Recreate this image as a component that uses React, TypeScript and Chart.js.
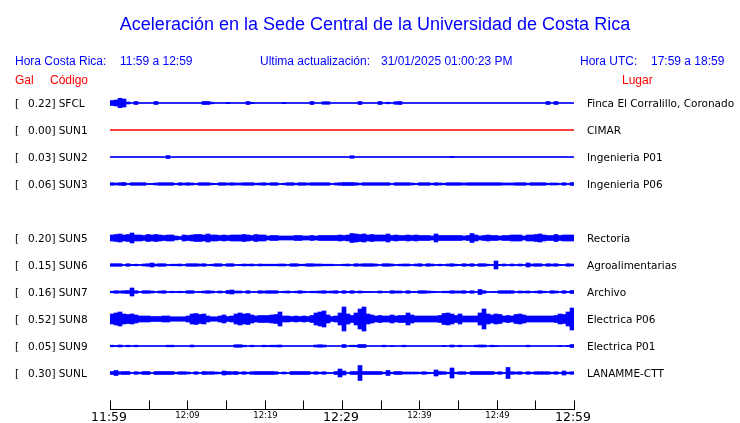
import { useEffect, useRef } from 'react';
import { Chart, registerables } from 'chart.js';

Chart.register(...registerables);

// ---------------- data ----------------
const TITLE = 'Aceleración en la Sede Central de la Universidad de Costa Rica';
const localTimeLabel = 'Hora Costa Rica:';
const localTimeRange = '11:59 a 12:59';
const updateLabel = 'Ultima actualización:';
const updateValue = '31/01/2025 01:00:23 PM';
const utcLabel = 'Hora UTC:';
const utcRange = '17:59 a 18:59';
const colGal = 'Gal';
const colCode = 'Código';
const colPlace = 'Lugar';

const WINDOW_MINUTES = 60;
const ROW_GAL = 1.16; // vertical spacing between traces, in Gal
const AMP_UNIT_GAL = 0.043; // envelope values below are in units of this many Gal

const stationCodes = ['SFCL', 'SUN1', 'SUN2', 'SUN3', 'SUN5', 'SUN6', 'SUN7', 'SUN8', 'SUN9', 'SUNL'];
const stationPeaks = ['0.22', '0.00', '0.03', '0.06', '0.20', '0.15', '0.16', '0.52', '0.05', '0.30'];
const stationPlaces = [
  'Finca El Corralillo, Coronado',
  'CIMAR',
  'Ingenieria P01',
  'Ingenieria P06',
  'Rectoria',
  'Agroalimentarias',
  'Archivo',
  'Electrica P06',
  'Electrica P01',
  'LANAMME-CTT',
];
// slot 4 (SUN4) is empty in the display
const stationSlots = [0, 1, 2, 3, 5, 6, 7, 8, 9, 10];
const stationColors = ['#0000ff', '#ff0000', '#0000ff', '#0000ff', '#0000ff', '#0000ff', '#0000ff', '#0000ff', '#0000ff', '#0000ff'];

const timeTickMinutes = [0, 5, 10, 15, 20, 25, 30, 35, 40, 45, 50, 55, 60];
const timeTickLabels = ['11:59', '', '12:09', '', '12:19', '', '12:29', '', '12:39', '', '12:49', '', '12:59'];
const timeTickMajor = [true, false, false, false, false, false, true, false, false, false, false, false, true];

// amplitude envelopes (116 samples across the hour)
const ampSFCL = [
  2.5, 3, 4.7, 4, 1, 0, 1.5, 0, 0, 0,
  0, 1.5, 0, 0, 0, 0, 0, 0, 0, 0,
  0, 0, 0, 1.5, 1.5, 0.8, 0, 0, 0, 0.7,
  0, 0, 0, 0, 1.5, 0.7, 0, 0, 0, 0,
  0, 0, 0, 0.7, 0, 0, 0, 0, 0, 0,
  1.5, 0, 0, 1.3, 1.3, 0, 0, 0, 0, 0,
  0, 0, 1.5, 0, 0, 0, 0, 1.5, 0, 0.8,
  0, 1.3, 1.5, 0, 0, 0, 0, 0, 0, 0,
  0, 0, 0, 0, 0, 0, 0, 0, 0, 0,
  0, 0, 0, 0, 0, 0, 0, 0, 0, 0,
  0, 0, 0, 0, 0, 0, 0, 0, 0, 1.5,
  0, 1.5, 0, 0, 0, 0,
];
const ampSUN1: number[] = [];
const ampSUN2 = [
  0, 0, 0, 0, 0, 0, 0, 0, 0, 0,
  0, 0, 0, 0, 1.5, 0, 0, 0, 0, 0,
  0, 0, 0, 0, 0, 0, 0, 0, 0, 0,
  0, 0, 0, 0, 0, 0, 0, 0, 0, 0,
  0, 0, 0, 0, 0, 0, 0, 0, 0, 0,
  0, 0, 0, 0, 0, 0, 0, 0, 0, 0,
  1.3, 0, 0, 0, 0, 0, 0, 0, 0, 0,
  0, 0, 0, 0, 0, 0, 0, 0, 0, 0,
  0, 0, 0, 0, 0, 0.7, 0, 0, 0, 0,
  0, 0, 0, 0, 0, 0, 0, 0, 0, 0,
  0, 0, 0, 0, 0, 0, 0, 0, 0, 0,
  0, 0, 0, 0, 0, 0,
];
const ampSUN3 = [
  1.3, 1, 1.3, 1.5, 0.5, 1.3, 1.3, 1.3, 1.3, 0.5,
  0.5, 1, 1.3, 1.3, 1.3, 1.3, 0.5, 1.3, 1, 1.3,
  1, 0.5, 1.3, 1.3, 1.3, 0.8, 0.5, 1.3, 1.3, 1,
  1.3, 1, 1, 1.3, 1.3, 1.3, 0.8, 1, 1.3, 0.8,
  1.3, 1.3, 0.3, 0.8, 1.3, 1.3, 0.8, 1.3, 1.3, 1,
  1.3, 1.3, 1.3, 1.3, 1.3, 0.3, 1, 1.3, 1.5, 1.5,
  1.5, 1.3, 0.8, 1.3, 1.3, 1.3, 1.3, 1.3, 1.3, 1.3,
  0.3, 1.3, 1.3, 1.3, 1.3, 1, 0.5, 1.3, 1.3, 1.3,
  0.8, 1.3, 1, 0.8, 1.3, 1.3, 1.3, 1.3, 1, 1.3,
  1.3, 1.3, 1.3, 1.3, 1.3, 1.3, 1.3, 1.3, 1, 1,
  1, 1.3, 1.3, 1.3, 0.8, 1.3, 1.3, 1.3, 1.3, 0.8,
  1, 1, 0.5, 1.3, 0.5, 1.5,
];
const ampSUN5 = [
  3, 3.5, 4, 3, 3.5, 5, 3, 3, 2.5, 3.5,
  3, 3.5, 3, 2.5, 3, 3, 2, 1.5, 3, 2.5,
  3, 3.5, 3.5, 3, 4, 3, 3, 2.5, 3, 2.5,
  3, 3, 3, 3.5, 3, 2.5, 3.5, 3, 3, 2,
  2.5, 2.5, 2, 2, 2, 2, 2.5, 2.5, 2, 2,
  2.5, 2, 2.5, 2.5, 2.5, 2.5, 2.5, 3, 2.5, 3,
  4.5, 4, 3.5, 4, 3, 3.5, 3, 3, 3, 4,
  2.5, 3, 2.5, 2.5, 3, 2.5, 3, 2.5, 2.5, 2.5,
  2, 4, 2.5, 2.5, 2.5, 2.5, 2.5, 2.5, 2, 2.5,
  4.5, 3, 2, 2.5, 3, 2.5, 2.5, 2, 2.5, 2.5,
  3, 3, 3, 2, 3, 3, 3.5, 4, 3, 2.5,
  2.5, 3.5, 2.5, 3, 3, 3,
];
const ampSUN6 = [
  1.3, 1.3, 1.3, 0.3, 1.3, 0.5, 0.8, 0.3, 1, 1.3,
  2, 1, 1.3, 1.3, 0.3, 0.8, 0.8, 1, 0.3, 1.3,
  1.3, 1.3, 1, 1.3, 0.3, 0.8, 1.3, 1.3, 0.3, 1.3,
  1.3, 0.3, 0.5, 1, 0.8, 1, 0.3, 1, 0.8, 0.8,
  0.8, 0.8, 1, 1, 0.3, 1.3, 1.3, 0.8, 0.8, 1.3,
  1.3, 1, 1, 0.8, 0.8, 0.8, 0.3, 0.3, 0.8, 1,
  0.3, 1.3, 1, 1.3, 1.3, 1.3, 1, 0.3, 1.3, 1.3,
  1, 0.3, 0.8, 1, 1, 0.3, 1, 1.3, 0.3, 1.3,
  1, 0.3, 0.8, 0.3, 1, 1.3, 0.8, 0.5, 1.3, 0.8,
  1.3, 0.3, 1.3, 1.3, 0.8, 0.3, 4, 0.5, 1, 0.3,
  1, 0.3, 1, 0.3, 2, 1, 1.3, 1.3, 0.3, 1.3,
  1, 1.3, 0.5, 0.3, 1.3, 1,
];
const ampSUN7 = [
  0.8, 1.3, 1, 1.3, 1.5, 4, 1.3, 0.3, 1.3, 1.3,
  1, 0.3, 1, 1.3, 0.3, 0.8, 0.5, 0.8, 0.5, 1.3,
  1.3, 0.3, 0.5, 1, 1.3, 1, 0.3, 1, 0.3, 1.5,
  2, 1, 1, 0.3, 1.3, 0.3, 0.3, 1.3, 1, 1.3,
  1.3, 1.3, 0.3, 0.8, 1, 0.3, 0.8, 1.3, 0.8, 0.3,
  0.8, 0.8, 1, 1.3, 0.8, 1, 1.3, 0.3, 1.3, 0.5,
  1.3, 0.5, 1, 0.5, 0.5, 0.3, 0.3, 1, 0.3, 0.3,
  1.3, 1, 1, 0.3, 1.3, 0.5, 0.5, 1.3, 1.3, 1,
  0.8, 0.5, 0.3, 0.8, 0.8, 1.3, 1, 1, 1.3, 0.5,
  1.3, 0.3, 2.5, 1.3, 0.3, 0.3, 0.5, 1.3, 1.3, 1.3,
  1.3, 0.3, 1, 0.8, 1, 0.3, 0.8, 1.3, 0.8, 0.3,
  1.3, 1, 0.3, 1.3, 0.5, 1.5,
];
const ampSUN8 = [
  5, 6, 7, 5, 4.5, 5, 4, 3, 3, 3,
  2.5, 2.5, 2.5, 3, 3, 2.2, 2.2, 2.2, 2.2, 3,
  5, 5.5, 4.5, 5, 3, 2.2, 2.2, 3, 4, 2.5,
  3, 5, 6, 5, 5.5, 4, 3, 3.5, 3.5, 3.5,
  4, 4.5, 7, 3, 3, 2.5, 3, 2.5, 3, 2.5,
  3.5, 6, 7, 8, 4, 2.5, 3, 6, 12, 5,
  3.5, 6, 10, 12, 5, 4, 3, 3.5, 3, 3,
  4, 3, 3.5, 3.5, 6, 4, 3, 3, 3, 3,
  3, 3, 3.5, 5.5, 6, 5, 3.5, 5, 3, 3,
  3, 3, 6, 10, 5, 4, 5, 4.5, 3, 3.5,
  3, 4.5, 5, 4, 3, 3, 3, 3, 3, 3,
  3, 3.5, 5, 4.5, 7, 11,
];
const ampSUN9 = [
  0.8, 0.3, 1, 0, 0.8, 0, 0.8, 0, 0, 0,
  0, 0, 0, 0, 0.8, 0.8, 0, 0, 0, 0,
  1, 0, 0, 0, 0, 0, 0, 0, 0, 0,
  0, 1.3, 1.3, 0.8, 0, 0.8, 0, 0, 0.8, 0.5,
  0.8, 0.8, 1, 0, 0, 0, 0, 0, 0, 0,
  0, 1, 1.3, 1, 0, 0, 0, 0, 1.5, 0,
  0.8, 0.8, 1.5, 1.5, 0, 0, 0, 0, 0.8, 0,
  0.5, 0, 0, 0.8, 0, 0, 0, 0, 0, 0,
  0, 0, 0, 0.5, 0, 1, 0, 0.8, 0, 0,
  0, 0.8, 1, 1, 0, 0.8, 0.5, 0, 0, 0,
  0, 0, 0, 0, 0.8, 0, 0, 0, 0, 0,
  0, 0, 0.5, 0, 0.5, 1.5,
];
const ampSUNL = [
  1.5, 2.5, 1.3, 1.5, 1.5, 0.3, 1.3, 0.8, 1.5, 1.5,
  0.3, 1.5, 1.5, 1.5, 1.5, 1.5, 0.8, 1.3, 1.3, 1,
  0.3, 1.3, 0.3, 1.5, 1.3, 1.3, 1, 0.8, 2, 1.5,
  1.3, 1.5, 0.8, 1.3, 0.8, 1.3, 1.5, 1.5, 1.5, 1.5,
  1.5, 1.3, 0.3, 1, 0.3, 1.5, 1.5, 1.5, 1.5, 1.5,
  0.8, 1.3, 0.8, 1.3, 0.3, 0.3, 1.5, 4, 2, 0.3,
  1.5, 1.5, 7.5, 1.5, 1.5, 1.5, 1.5, 1.5, 0.8, 2.5,
  0.8, 1.5, 1.5, 1, 1, 1, 1, 0.8, 1.3, 0.8,
  0.5, 3, 1.5, 1.3, 0.8, 5, 0.8, 1.3, 1.3, 0.5,
  1.5, 1.5, 1.5, 1.5, 1.5, 1.5, 0.8, 1.3, 0.5, 5.5,
  1.3, 1, 1.3, 0.3, 1.3, 0.8, 1.3, 1.3, 1.3, 1.3,
  0.8, 1.3, 0.3, 2, 0.8, 1.3,
];
const stationAmps = [ampSFCL, ampSUN1, ampSUN2, ampSUN3, ampSUN5, ampSUN6, ampSUN7, ampSUN8, ampSUN9, ampSUNL];

// ---------------- component ----------------
const BLUE = '#0000ff';
const RED = '#ff0000';
const SANS = '"Liberation Sans", Arial, sans-serif';
const DEJAVU = '"DejaVu Sans", sans-serif';

export default function App() {
  const canvasRef = useRef<HTMLCanvasElement | null>(null);

  useEffect(() => {
    const canvas = canvasRef.current;
    if (!canvas) return;

    const datasets: any[] = [];
    stationCodes.forEach((code, k) => {
      const center = stationSlots[k] * ROW_GAL;
      const color = stationColors[k];
      datasets.push({
        type: 'line',
        label: code + ' base',
        data: [
          { x: 0, y: center },
          { x: WINDOW_MINUTES, y: center },
        ],
        borderColor: color,
        borderWidth: 1.4,
        pointRadius: 0,
        fill: false,
      });
      const amps = stationAmps[k];
      if (amps.length) {
        datasets.push({
          type: 'bar',
          label: code,
          data: amps.map((a, i) => ({
            x: ((i + 0.5) * WINDOW_MINUTES) / amps.length,
            y: [center - a * AMP_UNIT_GAL, center + a * AMP_UNIT_GAL],
          })),
          backgroundColor: color,
          borderWidth: 0,
          barPercentage: 1,
          categoryPercentage: 1,
          grouped: false,
        });
      }
    });

    const textPlugin = {
      id: 'seismoText',
      beforeDraw(chart: any) {
        const c = chart.ctx;
        c.save();
        c.fillStyle = '#ffffff';
        c.fillRect(0, 0, chart.width, chart.height);
        c.restore();
      },
      afterDraw(chart: any) {
        const c: CanvasRenderingContext2D = chart.ctx;
        const xs = chart.scales.x;
        const ys = chart.scales.y;
        const area = chart.chartArea;
        c.save();
        c.textBaseline = 'alphabetic';

        // title
        c.fillStyle = BLUE;
        c.font = `18px ${SANS}`;
        c.textAlign = 'center';
        c.fillText(TITLE, 375, 29.5);

        // header row
        c.font = `12px ${SANS}`;
        c.textAlign = 'left';
        c.fillText(localTimeLabel, 15, 65);
        c.fillText(localTimeRange, 120, 65);
        c.fillText(updateLabel, 260, 65);
        c.fillText(updateValue, 381, 65);
        c.fillText(utcLabel, 580, 65);
        c.fillText(utcRange, 651, 65);

        c.fillStyle = RED;
        c.fillText(colGal, 15, 84);
        c.fillText(colCode, 50, 84);
        c.fillText(colPlace, 622, 84);

        // station labels
        c.fillStyle = '#000000';
        c.font = `10.5px ${DEJAVU}`;
        stationCodes.forEach((code, k) => {
          const y = ys.getPixelForValue(stationSlots[k] * ROW_GAL) + 4.3;
          c.textAlign = 'left';
          c.fillText('[', 15, y);
          c.textAlign = 'right';
          c.fillText(stationPeaks[k] + ']', 55.5, y);
          c.textAlign = 'left';
          c.fillText(code, 58.7, y);
          c.fillText(stationPlaces[k], 587, y);
        });

        // time axis
        const yAxis = Math.round(area.bottom) + 0.5;
        c.strokeStyle = '#000000';
        c.lineWidth = 1;
        c.beginPath();
        c.moveTo(Math.round(xs.getPixelForValue(0)), yAxis);
        c.lineTo(Math.round(xs.getPixelForValue(WINDOW_MINUTES)) + 1, yAxis);
        c.stroke();
        timeTickMinutes.forEach((m, i) => {
          const px = Math.round(xs.getPixelForValue(m)) + 0.5;
          c.beginPath();
          c.moveTo(px, yAxis);
          c.lineTo(px, yAxis - 9);
          c.stroke();
          const lab = timeTickLabels[i];
          if (!lab) return;
          c.textAlign = 'center';
          if (timeTickMajor[i]) {
            c.font = `12.5px ${DEJAVU}`;
            c.fillText(lab, px - 1.5, yAxis + 11);
          } else {
            c.font = `8.5px ${DEJAVU}`;
            c.fillText(lab, px, yAxis + 8.5);
          }
        });
        c.restore();
      },
    };

    const chart = new Chart(canvas, {
      type: 'bar',
      data: { datasets },
      options: {
        animation: false,
        responsive: false,
        events: [],
        layout: { padding: { left: 110, right: 166, top: 76, bottom: 14 } },
        plugins: { legend: { display: false }, tooltip: { enabled: false }, title: { display: false } },
        scales: {
          x: { type: 'linear', min: 0, max: WINDOW_MINUTES, offset: false, display: false },
          y: {
            type: 'linear',
            min: -1 * ROW_GAL,
            max: (10 + 36 / 27) * ROW_GAL,
            reverse: true,
            beginAtZero: false,
            display: false,
          },
        },
      },
      plugins: [textPlugin],
    });

    return () => chart.destroy();
  }, []);

  return (
    <div style={{ position: 'fixed', left: 0, top: 0, width: 740, height: 423, background: '#fff' }}>
      <canvas ref={canvasRef} width={740} height={423} style={{ display: 'block' }} />
    </div>
  );
}
